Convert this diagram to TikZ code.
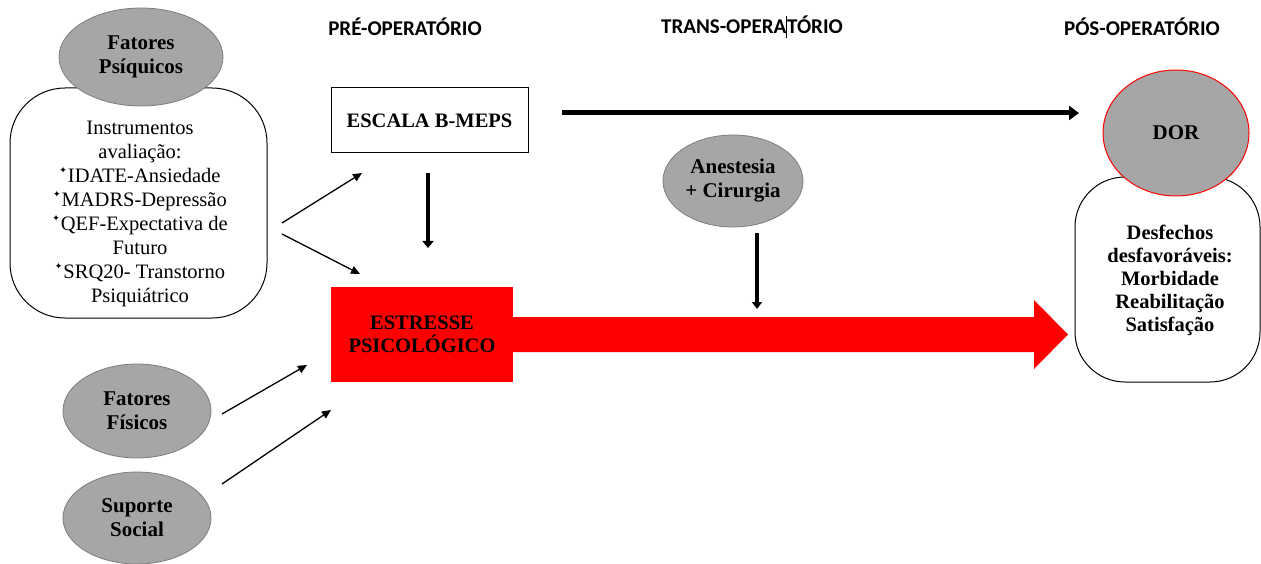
\documentclass[tikz,border=0pt]{standalone}
\usepackage{fontspec}
\setmainfont{Liberation Serif}
\newfontfamily\hdrfont{Carlito}
\newfontfamily\symfont{DejaVu Sans}
\usetikzlibrary{shapes.geometric,arrows.meta}
\definecolor{ellgray}{RGB}{166,166,166}
\definecolor{ellborder}{RGB}{125,125,125}
\definecolor{purered}{RGB}{255,0,0}
\newcommand{\starbul}{\raisebox{0.42em}{\symfont\fontsize{9}{9}\selectfont ✦}\kern1pt}
\begin{document}
\begin{tikzpicture}[x=1pt,y=-1pt,
  grayell/.style={ellipse,fill=ellgray,draw=ellborder,line width=0.8pt,inner sep=0pt,align=center,font=\bfseries\fontsize{21}{24}\selectfont},
  rbox/.style={draw=black,line width=1pt,rounded corners=55pt,fill=white},
  txt/.style={align=center,font=\fontsize{20.5}{24}\selectfont},
  btxt/.style={align=center,font=\bfseries\fontsize{20.5}{23.5}\selectfont},
  hdr/.style={font=\hdrfont\bfseries\fontsize{21}{24}\selectfont},
  thin/.style={line width=1.3pt,-{Triangle[width=8pt,length=9pt]}},
  thick/.style={line width=4pt,-{Triangle[width=11pt,length=7pt]}}
]
\useasboundingbox (0,0) rectangle (1261,564);

% headers
\node[hdr] (pre) at (405,27) {PRÉ-OPERATÓRIO};
\node[hdr] (trans) at (752,27) {TRANS-OPERA\rule[-0.25em]{0.8pt}{1.05em}TÓRIO};
\node[hdr] (pos) at (1142,27) {PÓS-OPERATÓRIO};

% left psychic factors
\node[rbox,minimum width=257pt,minimum height=230pt] (psibox) at (138.5,203) {};
\node[txt] (psitext) at (140,214) {Instrumentos\\avaliação:\\\starbul IDATE-Ansiedade\\\starbul MADRS-Depressão\\\starbul QEF-Expectativa de\\Futuro\\\starbul SRQ20- Transtorno\\Psiquiátrico};
\node[grayell,minimum width=164pt,minimum height=98pt] (psi) at (141,57) {Fatores\\Psíquicos};

\node[grayell,minimum width=148pt,minimum height=94pt] (fis) at (137,411) {Fatores\\Físicos};
\node[grayell,minimum width=148pt,minimum height=92pt] (soc) at (137,518) {Suporte\\Social};

% centre
\node[draw=black,line width=1pt,minimum width=197pt,minimum height=65pt,btxt] (meps) at (429.5,120.5) {ESCALA B-MEPS};
\node[fill=purered,minimum width=182pt,minimum height=95pt,inner sep=0pt,btxt] (stress) at (422,334.5) {ESTRESSE\\PSICOLÓGICO};
\node[grayell,minimum width=140pt,minimum height=92pt] (anest) at (733,181) {Anestesia\\+ Cirurgia};

% right
\node[rbox,rounded corners=50pt,minimum width=185pt,minimum height=205pt] (outbox) at (1167.5,279.5) {};
\node[btxt,font=\bfseries\fontsize{20.5}{23}\selectfont] (outtext) at (1170,280) {Desfechos\\desfavoráveis:\\Morbidade\\Reabilitação\\Satisfação};
\node[ellipse,fill=ellgray,draw=purered,line width=1pt,minimum width=146pt,minimum height=126pt,inner sep=0pt,font=\bfseries\fontsize{21}{24}\selectfont] (dor) at (1176,133) {DOR};

% big red block arrow
\fill[purered] (stress.east |- 0,317) -- (1034,317) -- (1034,300) -- (1068,334.5) -- (1034,369) -- (1034,352) -- (stress.east |- 0,352) -- cycle;

% coordinates for free ends
\coordinate (p1s) at (282,223);
\coordinate (p1e) at (362,173);
\coordinate (p2s) at (282,234);
\coordinate (p2e) at (360,274);
\coordinate (f1s) at (222,414);
\coordinate (f1e) at (307,365);
\coordinate (s1s) at (222,484);
\coordinate (s1e) at (331,410);
\coordinate (m1s) at (428,173);
\coordinate (m1e) at (428,248);
\coordinate (a1s) at (757,233);
\coordinate (a1e) at (757,309);
\coordinate (d1s) at (562,113);
\coordinate (d1e) at (1079,113);

\draw[thin] (p1s) -- (p1e);
\draw[thin] (p2s) -- (p2e);
\draw[thin] (f1s) -- (f1e);
\draw[thin] (s1s) -- (s1e);
\draw[thick] (m1s) -- (m1e);
\draw[line width=3.5pt,-{Triangle[width=10pt,length=7pt]}] (a1s) -- (a1e);
\draw[line width=5pt,-{Triangle[width=14pt,length=10pt]}] (d1s) -- (d1e);
\end{tikzpicture}
\end{document}
